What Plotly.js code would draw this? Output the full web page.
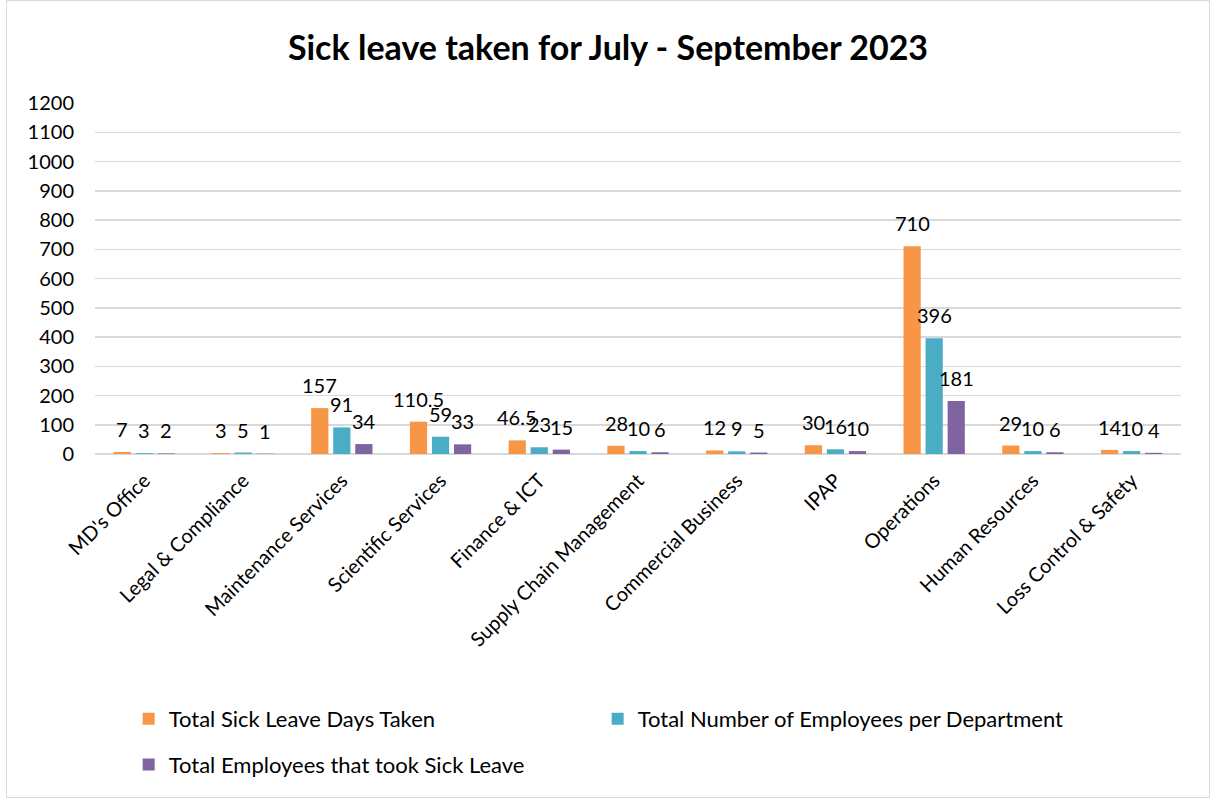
<!DOCTYPE html>
<html>
<head>
<meta charset="utf-8">
<script src="https://cdn.plot.ly/plotly-3.0.1.min.js"></script>
<style>
html,body{margin:0;padding:0;background:#fff;}
#frame{position:absolute;left:6px;top:0px;width:1202px;height:796px;border:1px solid #d9d9d9;}
#chart{position:absolute;left:0;top:0;width:1216px;height:798px;}
</style>
</head>
<body>
<div id="frame"></div>
<div id="chart"></div>
<script>
const departments = ["MD's Office","Legal & Compliance","Maintenance Services","Scientific Services","Finance & ICT","Supply Chain Management","Commercial Business","IPAP","Operations","Human Resources","Loss Control & Safety"];
const sickDays = [7,3,157,110.5,46.5,28,12,30,710,29,14];
const totalEmployees = [3,5,91,59,23,10,9,16,396,10,10];
const employeesOnLeave = [2,1,34,33,15,6,5,10,181,6,4];
const seriesNames = ["Total Sick Leave Days Taken","Total Number of Employees per Department","Total Employees that took Sick Leave"];
const seriesColors = ["#F79646","#4BACC6","#8064A2"];
const yTicks = [0,100,200,300,400,500,600,700,800,900,1000,1100,1200];

const FONT = "Lato, 'Open Sans', sans-serif";
const series = [sickDays,totalEmployees,employeesOnLeave];
const traces = series.map((vals,i)=>({
  type:'bar', x:departments, y:vals, name:seriesNames[i],
  marker:{color:seriesColors[i]},
  legend: i===2 ? 'legend2' : 'legend',
  hoverinfo:'x+y'
}));

const annotations = [];
const slot = 22;
series.forEach((vals,i)=>{
  vals.forEach((v,j)=>{
    annotations.push({
      x:departments[j], y:v, xref:'x', yref:'y', text:String(v),
      showarrow:false, xanchor:'center', yanchor:'bottom',
      xshift:(i-1)*slot, yshift:9,
      font:{family:FONT,size:20,color:'#000'}
    });
  });
});

const layout = {
  width:1216, height:798,
  paper_bgcolor:'rgba(0,0,0,0)', plot_bgcolor:'rgba(0,0,0,0)',
  margin:{l:95,r:35,t:103,b:341},
  title:{text:'<b>Sick leave taken for July - September 2023</b>', x:0.5, xanchor:'center', y:0.94, yanchor:'middle',
    font:{family:FONT,size:34,color:'#000'}},
  barmode:'group', bargap:0.33, bargroupgap:0.22,
  xaxis:{type:'category', tickangle:-45, tickfont:{family:FONT,size:20,color:'#000'},
    showgrid:false, showline:false, ticks:'', ticklabelstandoff:10, automargin:false},
  yaxis:{range:[0,1200], tickvals:yTicks, ticktext:yTicks.map(String),
    tickfont:{family:FONT,size:20,color:'#000'}, gridcolor:'#d9d9d9', gridwidth:1.5,
    zeroline:true, zerolinecolor:'#d9d9d9', zerolinewidth:1.5, showline:false, ticks:'', ticklen:0,
    ticklabelstandoff:20, automargin:false, fixedrange:true},
  legend:{orientation:'h', x:0.031, xanchor:'left', y:-0.695, yanchor:'top', entrywidth:424, entrywidthmode:'pixels',
    font:{family:FONT,size:22,color:'#000'}, itemwidth:30, bgcolor:'rgba(0,0,0,0)'},
  legend2:{orientation:'h', x:0.031, xanchor:'left', y:-0.825, yanchor:'top',
    font:{family:FONT,size:22,color:'#000'}, itemwidth:30, bgcolor:'rgba(0,0,0,0)'},
  annotations:annotations,
  showlegend:true
};
Plotly.newPlot('chart', traces, layout, {displayModeBar:false, staticPlot:true});
</script>
</body>
</html>
